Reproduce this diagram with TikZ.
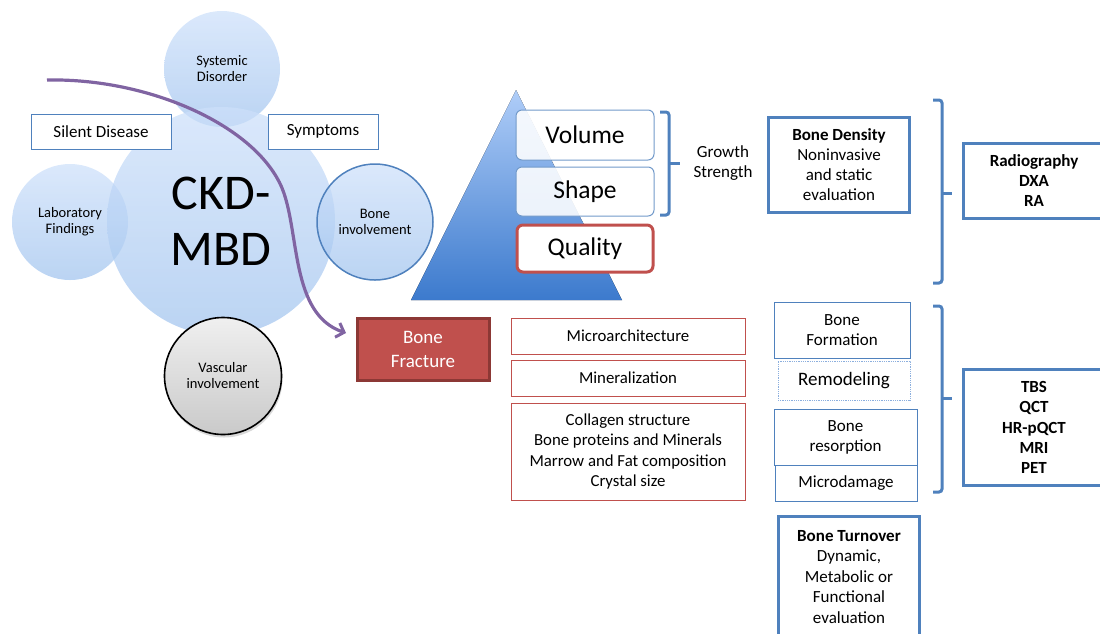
\documentclass[tikz,border=0pt]{standalone}
\usepackage{fontspec}
\setmainfont{Carlito}
\usetikzlibrary{shadows,arrows.meta}
\definecolor{boxblue}{RGB}{79,129,189}
\definecolor{lightbl}{RGB}{140,175,222}
\definecolor{redc}{RGB}{192,80,77}
\definecolor{redd}{RGB}{140,56,53}
\definecolor{purp}{RGB}{128,100,162}
\definecolor{circtop}{RGB}{205,224,250}
\definecolor{circbot}{RGB}{160,195,238}
\definecolor{tritop}{RGB}{175,205,248}
\definecolor{tribot}{RGB}{60,122,205}
\newcommand\myfs[2]{\fontsize{#1}{#2}\selectfont}
\tikzset{
  bubble/.style={circle, inner sep=0pt, top color=circtop, bottom color=circbot, fill opacity=0.72, text opacity=1, align=center, font=\myfs{14.5}{16}},
  plainbox/.style={draw=boxblue, line width=0.8pt, fill=white, inner sep=0pt, align=center, font=\myfs{17}{20}},
  thickbox/.style={draw=boxblue, line width=3pt, fill=white, inner sep=0pt, align=center, font=\myfs{17}{20.3}},
  redbox/.style={draw=redc, line width=0.8pt, fill=white, inner sep=0pt, align=center, font=\myfs{16.8}{20.5}},
  pyrbox/.style={draw=boxblue!80, line width=1pt, rounded corners=6pt, fill=white, fill opacity=0.88, text opacity=1, inner sep=0pt, font=\myfs{25.5}{26}},
  bracec/.style={draw=boxblue, line width=3pt, rounded corners=3pt}
}
\begin{document}
\begin{tikzpicture}[x=1pt,y=-1pt]
\useasboundingbox (0,0) rectangle (1100,633);
% bubbles
\node[bubble, minimum size=116pt] (sys) at (222,69) {Systemic\\Disorder};
\node[bubble, minimum size=116pt] (lab) at (70,222) {Laboratory\\Findings};
\node[bubble, minimum size=228pt, font=\myfs{50}{56}] (ckd) at (221,221) {CKD-\\MBD};
\node[bubble, minimum size=116pt, draw=boxblue, line width=1.5pt, draw opacity=1] (bone) at (375,222) {Bone\\involvement};
\node[circle, minimum size=117pt, inner sep=0pt, top color=gray!12, bottom color=gray!42, draw=black, line width=1.6pt, align=center, font=\myfs{14.5}{16}, drop shadow={shadow xshift=1pt, shadow yshift=-3pt, opacity=0.3}] (vasc) at (223,376) {Vascular\\involvement};
% boxes on the bubbles
\node[plainbox, minimum width=140pt, minimum height=35pt] (silent) at (101,131.5) {Silent Disease};
\node[plainbox, minimum width=110pt, minimum height=35pt] (symp) at (323,131.5) {Symptoms};
% bone fracture
\node[fill=redc, draw=redd, line width=3pt, minimum width=132pt, minimum height=62pt, inner sep=0pt, align=center, text=white, font=\myfs{19}{24}] (fract) at (423,349) {Bone\\Fracture};
% purple arrow
\coordinate (pstart) at (47,80);
\coordinate (ptip) at (346,333);
\draw[purp, line width=3.2pt, -{Straight Barb[length=7pt,width=15pt,line width=3pt]}] (pstart) .. controls (150,78) and (256,126) .. (282,188) .. controls (300,232) and (290,314) .. (ptip);
% pyramid
\fill[top color=tritop, bottom color=tribot] (516,90) -- (622,300) -- (411,300) -- cycle;
\node[pyrbox, minimum width=138pt, minimum height=50pt] (vol) at (585,135) {Volume};
\node[pyrbox, minimum width=138pt, minimum height=49pt] (shape) at (585,191.5) {Shape};
\node[pyrbox, draw=redc, line width=3pt, fill opacity=1, minimum width=136pt, minimum height=47pt] (qual) at (585,248.5) {Quality};
% brace 1
\draw[bracec] (660,112) -- (669,112) -- (669,215) -- (660,215);
\draw[bracec] (669,163) -- (680,163);
\node[align=center, font=\myfs{17}{20}] (growth) at (723,163) {Growth\\Strength};
% bone density
\node[thickbox, minimum width=141pt, minimum height=95pt, font=\myfs{17}{20}] (dens) at (839,165) {\textbf{Bone Density}\\Noninvasive\\and static\\evaluation};
% brace 2
\draw[bracec] (933,100) -- (942,100) -- (942,283) -- (933,283);
\draw[bracec] (942,193) -- (952,193);
\node[thickbox, minimum width=141pt, minimum height=75pt, font=\myfs{17}{20}\bfseries] (radio) at (1034,181) {Radiography\\DXA\\RA};
% quality items
\node[redbox, minimum width=234pt, minimum height=36pt] (micro) at (628,336) {Microarchitecture};
\node[redbox, minimum width=234pt, minimum height=36pt] (miner) at (628,378) {Mineralization};
\node[redbox, minimum width=234pt, minimum height=97pt] (coll) at (628,451.5) {Collagen structure\\Bone proteins and Minerals\\Marrow and Fat composition\\Crystal size};
% turnover items
\node[plainbox, minimum width=136pt, minimum height=56pt] (form) at (842,330) {Bone\\Formation};
\node[plainbox, draw=lightbl, densely dotted, minimum width=132pt, minimum height=39pt, font=\myfs{19}{20}] (remod) at (844,380.5) {Remodeling};
\node[plainbox, minimum width=143pt, minimum height=56pt] (resorp) at (845.5,437) {Bone\\resorption};
\node[plainbox, minimum width=142pt, minimum height=36pt] (mdam) at (846,483) {Microdamage};
% brace 3
\draw[bracec] (933,306) -- (942,306) -- (942,492) -- (933,492);
\draw[bracec] (942,398) -- (952,398);
\node[thickbox, minimum width=141pt, minimum height=116pt, font=\myfs{17}{20.3}\bfseries] (tbs) at (1034,427.5) {TBS\\QCT\\HR-pQCT\\MRI\\PET};
% bone turnover
\node[thickbox, minimum width=141pt, minimum height=122pt, font=\myfs{17}{20.5}] (turn) at (849,577) {\textbf{Bone Turnover}\\Dynamic,\\Metabolic or\\Functional\\evaluation};
\end{tikzpicture}
\end{document}
